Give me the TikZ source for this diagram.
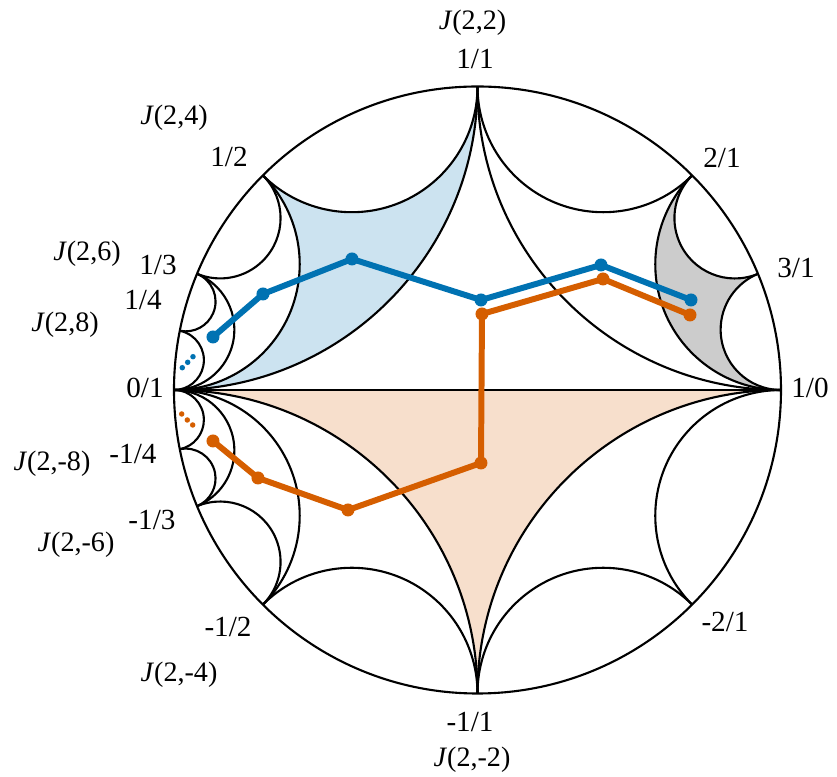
\documentclass[tikz,border=0pt]{standalone}
\usepackage{fontspec}
\setmainfont{Liberation Serif}
\usepackage{tikz}
\usetikzlibrary{calc}
\definecolor{walkBlue}{RGB}{0,114,178}
\definecolor{walkOrange}{RGB}{213,94,0}
\newcommand{\farR}{3.035}

\begin{document}
\begin{tikzpicture}[
      geo/.style={line width=0.6pt, draw=black},
      frac/.style={font=\fontsize{8.3}{10}\selectfont, inner sep=0pt},
      jlab/.style={font=\fontsize{8}{10}\selectfont, inner sep=0pt},
      walk/.style={line width=1.7pt, line join=round},
      bigdot/.style={circle, inner sep=0pt, minimum size=0.13cm},
      tinydot/.style={circle, inner sep=0pt, minimum size=0.055cm}
    ]
    \useasboundingbox (-4.775,-3.87) rectangle (3.595,3.90);

    % shaded ideal triangles
    \fill[walkBlue!20] (90:\farR)
      arc[start angle=360, end angle=225, radius={\farR*tan(22.5)}]
      arc[start angle=405, end angle=270, radius={\farR*tan(22.5)}]
      arc[start angle=270, end angle=360, radius=\farR] -- cycle;
    \fill[black!20] (0:\farR)
      arc[start angle=270, end angle=112.5, radius={\farR*tan(11.25)}]
      arc[start angle=292.5, end angle=135, radius={\farR*tan(11.25)}]
      arc[start angle=135, end angle=270, radius={\farR*tan(22.5)}] -- cycle;
    \fill[walkOrange!20] (180:\farR)
      arc[start angle=450, end angle=360, radius=\farR]
      arc[start angle=540, end angle=450, radius=\farR] -- cycle;

    % disk, diameter and Farey arcs
    \draw[geo] (0,0) circle (\farR);
    \draw[geo] (180:\farR) -- (0:\farR);
    \foreach \a/\b in {0/90,90/180,90/135,135/180,0/45,45/90,0/22.5,22.5/45,
                       135/157.5,157.5/180,157.5/168.75,168.75/180,
                       180/270,270/360,180/225,225/270,270/315,315/360,
                       180/202.5,202.5/225,180/191.25,191.25/202.5} {
      \draw[geo] (\a:\farR) arc[start angle=\a+270, end angle=\b+90, radius={\farR*tan((\b-\a)/2)}];
    }

    % walks
    \coordinate (b1) at (-2.645,0.53);
    \coordinate (b2) at (-2.145,0.96);
    \coordinate (b3) at (-1.255,1.31);
    \coordinate (b4) at (0.035,0.90);
    \coordinate (b5) at (1.235,1.25);
    \coordinate (b6) at (2.135,0.90);
    \coordinate (o1) at (2.125,0.75);
    \coordinate (o2) at (1.255,1.11);
    \coordinate (o3) at (0.045,0.76);
    \coordinate (o4) at (0.035,-0.73);
    \coordinate (o5) at (-1.295,-1.20);
    \coordinate (o6) at (-2.195,-0.88);
    \coordinate (o7) at (-2.645,-0.51);
    \draw[walk, walkBlue] (b1) -- (b2) -- (b3) -- (b4) -- (b5) -- (b6);
    \draw[walk, walkOrange] (o1) -- (o2) -- (o3) -- (o4) -- (o5) -- (o6) -- (o7);
    \foreach \n in {1,...,6} \node[bigdot, fill=walkBlue] (bd\n) at (b\n) {};
    \foreach \n in {1,...,7} \node[bigdot, fill=walkOrange] (od\n) at (o\n) {};
    \node[tinydot, fill=walkBlue] (bt1) at (-2.952,0.223) {};
    \node[tinydot, fill=walkBlue] (bt2) at (-2.898,0.277) {};
    \node[tinydot, fill=walkBlue] (bt3) at (-2.845,0.333) {};
    \node[tinydot, fill=walkOrange] (ot1) at (-2.958,-0.24) {};
    \node[tinydot, fill=walkOrange] (ot2) at (-2.902,-0.30) {};
    \node[tinydot, fill=walkOrange] (ot3) at (-2.848,-0.35) {};

    % labels
    \node[jlab] (j22) at (-0.05,3.67) {\textit{J}(2,2)};
    \node[frac] (q11) at (-0.025,3.31) {1/1};
    \node[jlab] (j24) at (-3.035,2.72) {\textit{J}(2,4)};
    \node[frac] (q12) at (-2.485,2.33) {1/2};
    \node[frac] (q21) at (2.445,2.32) {2/1};
    \node[frac] (q31) at (3.185,1.22) {3/1};
    \node[jlab] (j26) at (-3.905,1.36) {\textit{J}(2,6)};
    \node[frac] (q13) at (-3.195,1.25) {1/3};
    \node[jlab] (j28) at (-4.125,0.65) {\textit{J}(2,8)};
    \node[frac] (q14) at (-3.345,0.90) {1/4};
    \node[frac] (q01) at (-3.325,0.02) {0/1};
    \node[frac] (q10) at (3.325,0.02) {1/0};
    \node[jlab] (jm8) at (-4.255,-0.74) {\textit{J}(2,-8)};
    \node[frac] (qm14) at (-3.445,-0.64) {-1/4};
    \node[frac] (qm13) at (-3.255,-1.30) {-1/3};
    \node[jlab] (jm6) at (-4.015,-1.55) {\textit{J}(2,-6)};
    \node[frac] (qm12) at (-2.495,-2.37) {-1/2};
    \node[jlab] (jm4) at (-2.985,-2.85) {\textit{J}(2,-4)};
    \node[frac] (qm21) at (2.475,-2.32) {-2/1};
    \node[frac] (qm11) at (-0.075,-3.32) {-1/1};
    \node[jlab] (jm2) at (-0.055,-3.70) {\textit{J}(2,-2)};
  \end{tikzpicture}
\end{document}
